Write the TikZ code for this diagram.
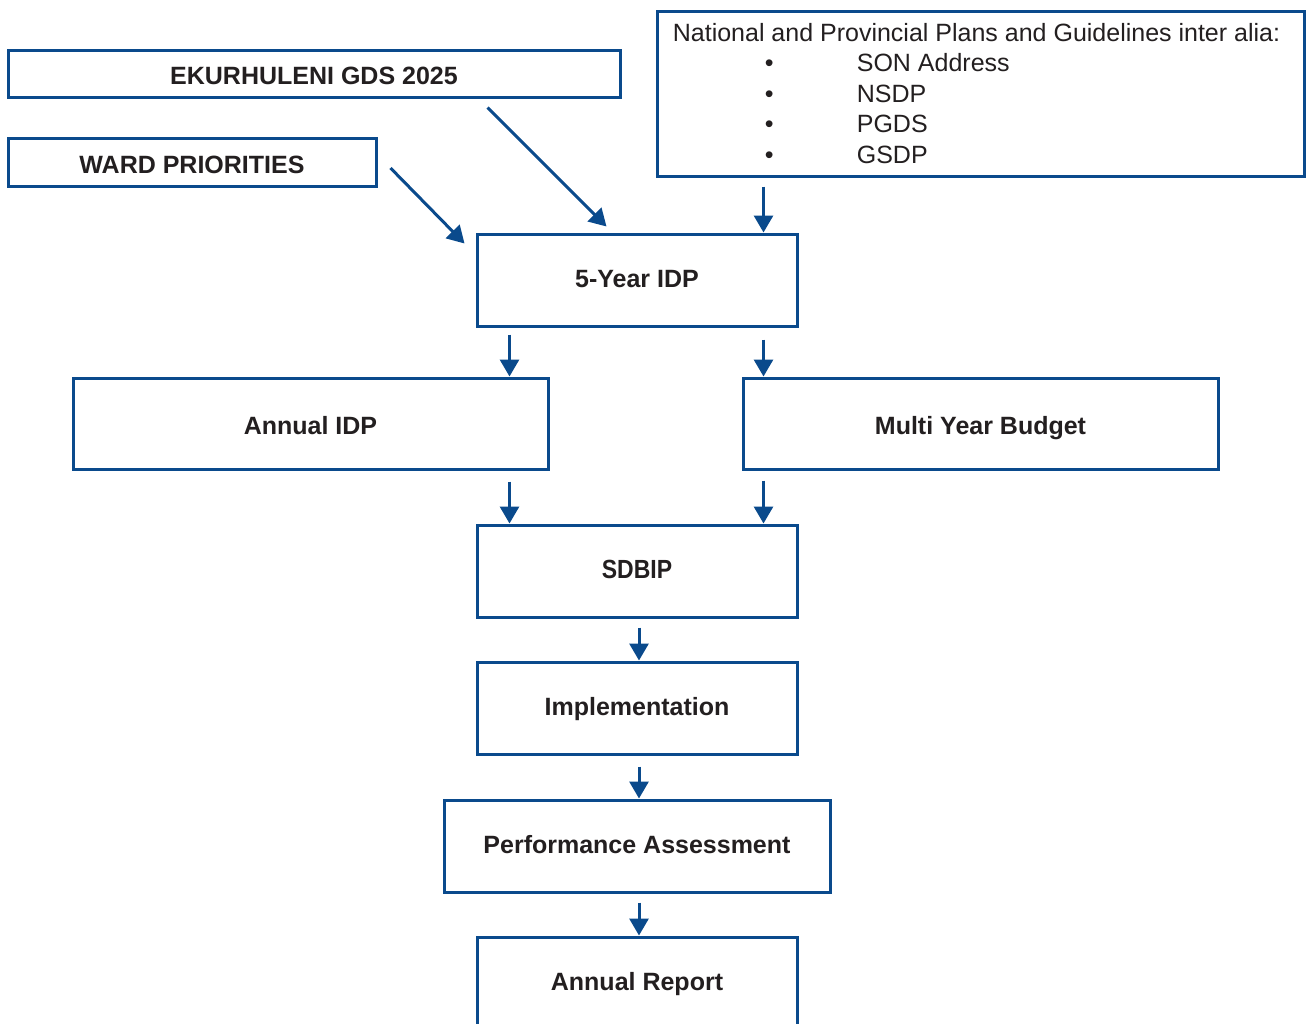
\documentclass[tikz,border=0pt]{standalone}
\usepackage{fontspec}
\usepackage{graphicx}
\setmainfont{Liberation Sans}
\usetikzlibrary{arrows.meta,calc}
\definecolor{boxblue}{RGB}{10,74,140}
\definecolor{txt}{RGB}{35,31,32}
\begin{document}
\begin{tikzpicture}[x=1pt,y=-1pt,
  box/.style={draw=boxblue,line width=3pt,fill=white,inner sep=0pt,text=txt,
    text height=18pt,text depth=4pt,
    font=\fontsize{25}{30.5}\selectfont\bfseries},
  lowtext/.style={text height=21pt,text depth=0pt},
  arr/.style={draw=boxblue,line width=3pt,-{Triangle[length=17pt,width=19pt]}}]
\useasboundingbox[fill=white] (0,0) rectangle (1306,1023);
\begin{scope}
\clip (0,0) rectangle (1306,1023);
\node[box,lowtext,minimum width=612pt,minimum height=47pt] (gds) at (314,73.5) {EKURHULENI GDS 2025};
\node[box,lowtext,text height=22pt,minimum width=368pt,minimum height=48pt] (ward) at (192,162) {WARD PRIORITIES};
\node[box,minimum width=647pt,minimum height=165pt,align=left,
  text height=,text depth=,
  font=\fontsize{25}{30.5}\selectfont] (nat) at (980.5,93.5)
  {National and Provincial Plans and Guidelines inter alia:\hspace*{8pt}\\
   \makebox[92pt]{}\makebox[92pt][l]{\textbullet}SON Address\\
   \makebox[92pt]{}\makebox[92pt][l]{\textbullet}NSDP\\
   \makebox[92pt]{}\makebox[92pt][l]{\textbullet}PGDS\\
   \makebox[92pt]{}\makebox[92pt][l]{\textbullet}GSDP};
\node[box,minimum width=320pt,minimum height=92pt] (five) at (637,280) {5-Year IDP};
\node[box,lowtext,minimum width=475pt,minimum height=91pt] (aidp) at (310.5,423.5) {Annual IDP};
\node[box,lowtext,minimum width=475pt,minimum height=91pt] (myb) at (980.5,423.5) {Multi Year Budget};
\node[box,minimum width=320pt,minimum height=92pt] (sdbip) at (637,571) {\scalebox{0.92}[1.05]{SDBIP}};
\node[box,minimum width=320pt,minimum height=92pt] (impl) at (637,708) {Implementation};
\node[box,minimum width=386pt,minimum height=92pt] (perf) at (637,846) {Performance Assessment};
\node[box,minimum width=320pt,minimum height=92pt] (ar) at (637,983) {Annual Report};

\coordinate (wS) at ($(ward.east)+(13,6)$);
\coordinate (wE) at ($(five.north west)+(-11,11)$);
\draw[arr] (wS) -- (wE);
\coordinate (gS) at ($(gds.south west)+(481,9)$);
\coordinate (gE) at ($(five.north west)+(131,-6)$);
\draw[arr] (gS) -- (gE);
\coordinate (n1) at ($(nat.south west)+(108,0)$);
\draw[arr,shorten <=9pt] (n1) -- (n1 |- five.north);
\coordinate (a1) at ($(five.south west)+(34,0)$);
\draw[arr,shorten <=7pt] (a1) -- (a1 |- aidp.north);
\coordinate (a2) at ($(five.south west)+(288,0)$);
\draw[arr,shorten <=12pt] (a2) -- (a2 |- myb.north);
\coordinate (a3) at ($(aidp.south west)+(438,0)$);
\draw[arr,shorten <=11pt] (a3) -- (a3 |- sdbip.north);
\coordinate (a4) at ($(myb.south west)+(22,0)$);
\draw[arr,shorten <=10pt] (a4) -- (a4 |- sdbip.north);
\coordinate (s1) at ($(sdbip.south)+(2,0)$);
\draw[arr,shorten <=9pt] (s1) -- (s1 |- impl.north);
\coordinate (i1) at ($(impl.south)+(2,0)$);
\draw[arr,shorten <=11pt] (i1) -- (i1 |- perf.north);
\coordinate (p1) at ($(perf.south)+(2,0)$);
\draw[arr,shorten <=9pt] (p1) -- (p1 |- ar.north);
\end{scope}
\end{tikzpicture}
\end{document}
